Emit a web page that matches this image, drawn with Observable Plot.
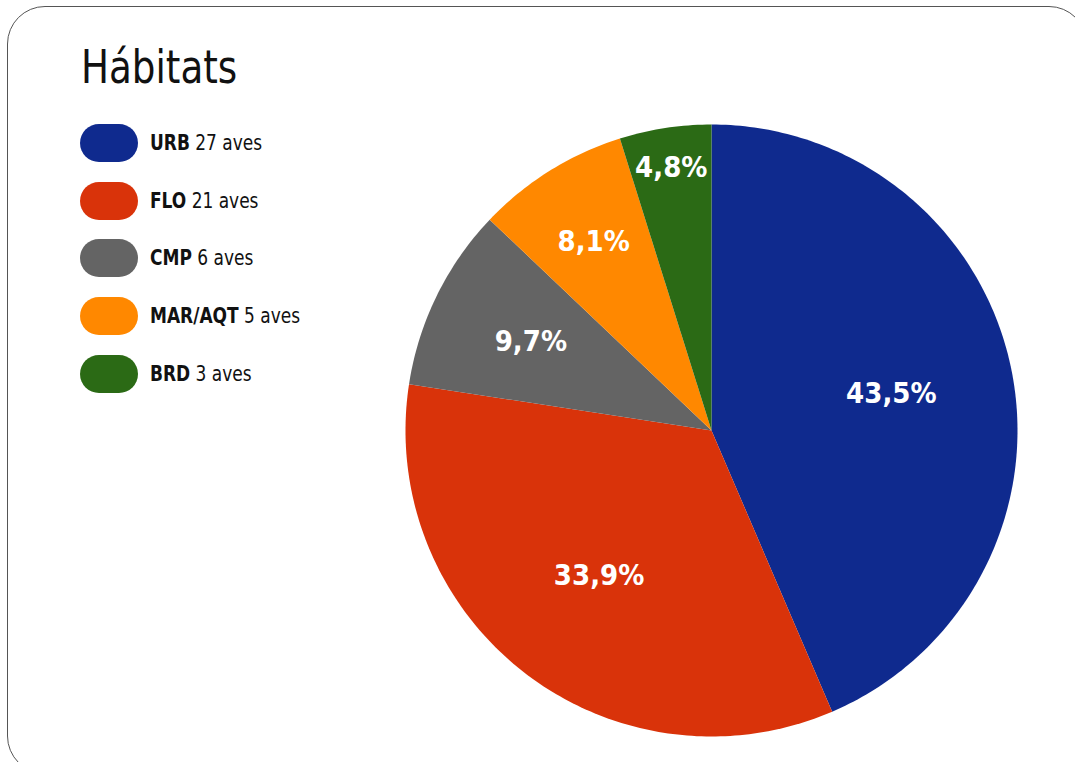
<!DOCTYPE html>
<html>
<head>
<meta charset="utf-8">
<script src="https://cdn.jsdelivr.net/npm/d3@7"></script>
<script src="https://cdn.jsdelivr.net/npm/@observablehq/plot@0.6"></script>
<style>
  html, body { margin: 0; padding: 0; background: #fff; }
  body { width: 1075px; height: 762px; position: relative; overflow: hidden;
         font-family: "Liberation Sans Narrow", "DejaVu Sans Condensed", "Roboto Condensed", Roboto, sans-serif; }
  #card { position: absolute; left: 7px; top: 6px; width: 1080px; height: 768px;
          border: 1.5px solid #555; border-radius: 38px; box-sizing: border-box; }
  #title { position: absolute; left: 81px; top: 40px; font-size: 46px; font-weight: 400; color: #111;
           transform: scaleX(0.9); transform-origin: left center; }
  #legend { position: absolute; left: 80px; top: 124px; }
  .item { position: absolute; left: 0; height: 38px; display: flex; align-items: center; white-space: nowrap; }
  .pill { width: 58px; height: 38px; border-radius: 19px; margin-right: 12px; flex: none; }
  .lab { font-size: 21px; color: #111; display: inline-block; transform: scaleX(0.9); transform-origin: left center; }
  .lab b { font-weight: 700; }
  #chart { position: absolute; left: 0; top: 0; }
</style>
</head>
<body>
<div id="card"></div>
<div id="title">Hábitats</div>
<div id="legend"></div>
<div id="chart"></div>
<script>
const categories = ["URB", "FLO", "CMP", "MAR/AQT", "BRD"];
const counts = [27, 21, 6, 5, 3];
const colors = ["#0f2a8e", "#d9330a", "#646464", "#ff8800", "#2b6a15"];
const unitLabel = "aves";

const total = d3.sum(counts);
const pie = d3.pie().sort(null).value(d => d.value)(categories.map((key, i) => ({key, value: counts[i]})));

// slice outlines in unit-circle data space (angle clockwise from top)
const slicePts = [];
for (const s of pie) {
  slicePts.push({key: s.data.key, x: 0, y: 0});
  const n = Math.max(4, Math.ceil((s.endAngle - s.startAngle) / (2 * Math.PI) * 400));
  for (let k = 0; k <= n; k++) {
    const a = s.startAngle + (s.endAngle - s.startAngle) * k / n;
    slicePts.push({key: s.data.key, x: Math.sin(a), y: Math.cos(a)});
  }
}

// labels: small slices pushed outward
const labels = pie.map(s => {
  const frac = s.data.value / total;
  const rho = 0.6 + 0.27 * Math.max(0, Math.min(1, (0.11 - frac) / 0.062));
  const a = (s.startAngle + s.endAngle) / 2;
  return {key: s.data.key, x: rho * Math.sin(a), y: rho * Math.cos(a),
          text: (frac * 100).toFixed(1).replace(".", ",") + "%"};
});

const chart = Plot.plot({
  width: 1075, height: 762,
  marginLeft: 405, marginRight: 58, marginTop: 124, marginBottom: 26,
  x: {domain: [-1, 1], axis: null},
  y: {domain: [-1, 1], axis: null},
  color: {domain: categories, range: colors},
  style: {fontFamily: '"Liberation Sans Narrow", "DejaVu Sans Condensed", "Roboto Condensed", Roboto, sans-serif', background: "transparent", overflow: "visible"},
  marks: [
    Plot.line(slicePts, {x: "x", y: "y", z: "key", fill: "key", stroke: null, curve: "linear-closed"}),
    Plot.text(labels, {x: "x", y: "y", text: "text", fill: "white", fontSize: 29, fontWeight: "bold"})
  ]
});
document.getElementById("chart").appendChild(chart);

const legend = document.getElementById("legend");
categories.forEach((c, i) => {
  const it = document.createElement("div");
  it.className = "item";
  it.style.top = (i * 57.7) + "px";
  it.innerHTML = `<div class="pill" style="background:${colors[i]}"></div><span class="lab"><b>${c}</b> ${counts[i]} ${unitLabel}</span>`;
  legend.appendChild(it);
});
</script>
</body>
</html>
